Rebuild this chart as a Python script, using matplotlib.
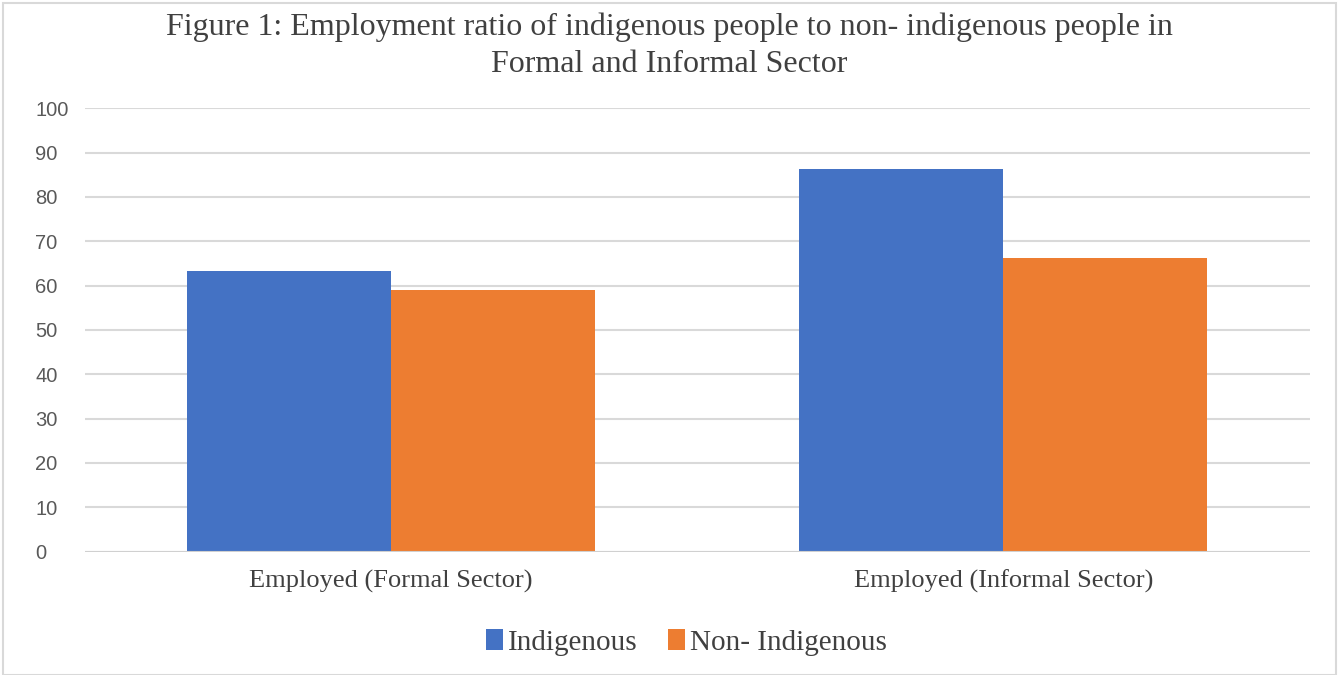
import matplotlib.pyplot as plt
import numpy as np
from matplotlib.patches import Rectangle

categories = ['Employed (Formal Sector)', 'Employed (Informal Sector)']
indigenous = [63.4, 86.2]
non_indigenous = [59.0, 66.3]
series_names = ['Indigenous', 'Non- Indigenous']
colors = ['#4472C4', '#ED7D31']

fig = plt.figure(figsize=(13.39, 6.75), dpi=100)
ax = fig.add_axes([0.0635, 0.1827, 0.9145, 0.657])

x = np.arange(len(categories))
w = 1 / 3
ax.bar(x - w / 2, indigenous, width=w, color=colors[0], label=series_names[0], zorder=3)
ax.bar(x + w / 2, non_indigenous, width=w, color=colors[1], label=series_names[1], zorder=3)

ax.set_xlim(-0.5, 1.5)
ax.set_ylim(0, 100)
ax.set_yticks(range(0, 101, 10))
ax.yaxis.grid(True, color='#d9d9d9', linewidth=1.5, zorder=0)
for s in ax.spines.values():
    s.set_visible(False)
ax.axhline(0, color='#d0d0d0', linewidth=1.5, zorder=4)
ax.tick_params(axis='both', length=0)
ax.tick_params(axis='y', labelsize=14.5, labelcolor='#595959', pad=36)
for lab in ax.get_yticklabels():
    lab.set_fontfamily('Liberation Sans')
    lab.set_horizontalalignment('left')
ax.set_xticks(x)
ax.set_xticklabels(categories, fontfamily='Liberation Serif', fontsize=19, color='#404040')
ax.tick_params(axis='x', pad=13)

fig.text(0.5, 0.982, 'Figure 1: Employment ratio of indigenous people to non- indigenous people in\nFormal and Informal Sector',
         ha='center', va='top', fontfamily='Liberation Serif', fontsize=23, color='#404040', linespacing=1.38)

leg = fig.legend(loc='center', bbox_to_anchor=(0.5125, 0.048), ncol=2, frameon=False,
                 prop={'family': 'Liberation Serif', 'size': 21}, handlelength=0.6, handleheight=0.7,
                 handletextpad=0.15, columnspacing=1.05)
for t in leg.get_texts():
    t.set_color('#404040')

fig.patches.append(Rectangle((0.002, 0.0), 0.996, 0.995, transform=fig.transFigure, fill=False,
                             edgecolor='#d9d9d9', linewidth=1.5))

fig.savefig('out.png', dpi=100)
